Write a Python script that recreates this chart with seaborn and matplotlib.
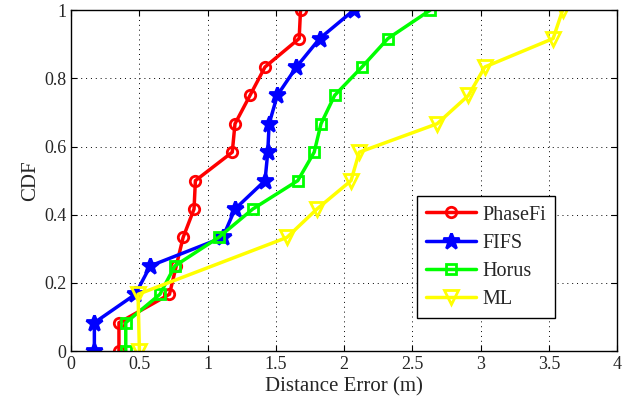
import numpy as np
import pandas as pd
import matplotlib
matplotlib.use("Agg")
import matplotlib.pyplot as plt
import seaborn as sns

# CDF curves
cdf12 = [0, 1/12, 2/12, 3/12, 4/12, 5/12, 6/12, 7/12, 8/12, 9/12, 10/12, 11/12, 1]
cdf_ml = [0, 2/12, 4/12, 5/12, 6/12, 7/12, 8/12, 9/12, 10/12, 11/12, 1]

phasefi = [0.35, 0.35, 0.72, 0.77, 0.82, 0.90, 0.91, 1.18, 1.20, 1.31, 1.42, 1.67, 1.68]
fifs = [0.17, 0.17, 0.47, 0.58, 1.11, 1.20, 1.42, 1.44, 1.45, 1.51, 1.65, 1.82, 2.07]
horus = [0.40, 0.40, 0.65, 0.76, 1.08, 1.33, 1.66, 1.78, 1.83, 1.93, 2.13, 2.32, 2.63]
ml = [0.50, 0.49, 1.58, 1.80, 2.05, 2.11, 2.68, 2.91, 3.03, 3.53, 3.60]

xticks = [0, 0.5, 1, 1.5, 2, 2.5, 3, 3.5, 4]
yticks = [0, 0.2, 0.4, 0.6, 0.8, 1]

sns.set_style("white")
plt.rcParams["font.family"] = ["Liberation Serif", "DejaVu Serif"]

fig = plt.figure(figsize=(6.41, 4.05), dpi=100)
ax = fig.add_axes([0.111, 0.133, 0.852, 0.842])

series = [
    ("PhaseFi", phasefi, cdf12, "#ff0000", "o", 7.5, "none"),
    ("FIFS", fifs, cdf12, "#0000ff", "*", 12, "#0000ff"),
    ("Horus", horus, cdf12, "#00ff00", "s", 6.5, "none"),
    ("ML", ml, cdf_ml, "#ffff00", "v", 9.5, "none"),
]

for name, xs, ys, col, mk, ms, fc in series:
    df = pd.DataFrame({"err": xs, "cdf": ys})
    sns.lineplot(data=df, x="err", y="cdf", sort=False, estimator=None, ax=ax,
                 color=col, lw=2.5, marker=mk, markersize=ms,
                 markerfacecolor=fc, markeredgecolor=col, markeredgewidth=2,
                 label=name)

ax.set_xlim(0, 4)
ax.set_ylim(0, 1)
ax.set_xticks(xticks)
ax.set_xticklabels(["0", "0.5", "1", "1.5", "2", "2.5", "3", "3.5", "4"])
ax.set_yticks(yticks)
ax.set_yticklabels(["0", "0.2", "0.4", "0.6", "0.8", "1"])
ax.grid(True, color="black", linestyle=(0, (1, 4)), linewidth=0.7)
ax.tick_params(direction="in", length=4, width=0.8, labelsize=13,
               top=True, right=True, bottom=True, left=True, color="black")
for s in ax.spines.values():
    s.set_color("black")
    s.set_linewidth(1.0)
ax.set_xlabel("Distance Error (m)", fontsize=15, labelpad=3)
ax.set_ylabel("CDF", fontsize=15, labelpad=3)

leg = ax.legend(loc="lower right", bbox_to_anchor=(0.886, 0.097), fontsize=14.5,
                frameon=True, fancybox=False, edgecolor="black", framealpha=1,
                handlelength=2.5, handletextpad=0.3, borderpad=0.45,
                labelspacing=0.45, borderaxespad=0)
leg.get_frame().set_linewidth(1.0)

fig.savefig("out.png", dpi=100)
